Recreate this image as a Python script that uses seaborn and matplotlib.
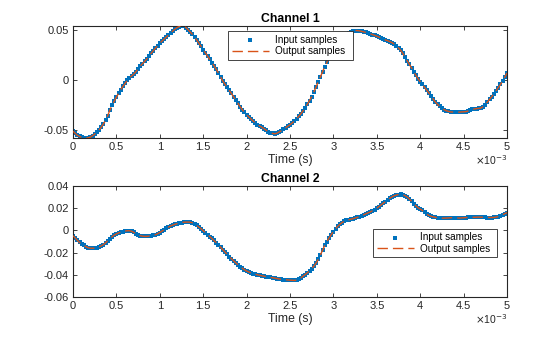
import numpy as np
import pandas as pd
import matplotlib
matplotlib.use("Agg")
import matplotlib.pyplot as plt
from matplotlib.ticker import MultipleLocator, FuncFormatter
import seaborn as sns

# Sample period of the recorded signal (seconds) and the sample values of each channel
sample_period = 25e-6

channel1 = [
    -0.0510, -0.0530, -0.0550, -0.0562, -0.0570, -0.0575, -0.0577, -0.0575, -0.0568, -0.0555,
    -0.0538, -0.0520, -0.0498, -0.0470, -0.0438, -0.0400, -0.0355, -0.0300, -0.0250, -0.0212,
    -0.0170, -0.0133, -0.0097, -0.0065, -0.0035, -0.0005, 0.0020, 0.0038, 0.0057, 0.0082,
    0.0110, 0.0137, 0.0160, 0.0183, 0.0207, 0.0235, 0.0262, 0.0290, 0.0315, 0.0340,
    0.0364, 0.0385, 0.0406, 0.0426, 0.0446, 0.0467, 0.0487, 0.0505, 0.0520, 0.0530,
    0.0535, 0.0532, 0.0520, 0.0500, 0.0476, 0.0452, 0.0425, 0.0397, 0.0365, 0.0333,
    0.0300, 0.0268, 0.0237, 0.0205, 0.0172, 0.0140, 0.0105, 0.0068, 0.0030, -0.0010,
    -0.0043, -0.0073, -0.0104, -0.0135, -0.0168, -0.0202, -0.0234, -0.0265, -0.0295, -0.0322,
    -0.0345, -0.0367, -0.0388, -0.0408, -0.0426, -0.0443, -0.0458, -0.0470, -0.0484, -0.0500,
    -0.0515, -0.0525, -0.0532, -0.0535, -0.0530, -0.0518, -0.0505, -0.0490, -0.0475, -0.0460,
    -0.0445, -0.0428, -0.0408, -0.0386, -0.0362, -0.0337, -0.0308, -0.0276, -0.0242, -0.0205,
    -0.0165, -0.0120, -0.0070, -0.0020, 0.0030, 0.0080, 0.0130, 0.0175, 0.0218, 0.0258,
    0.0295, 0.0328, 0.0358, 0.0388, 0.0415, 0.0438, 0.0456, 0.0470, 0.0480, 0.0486,
    0.0490, 0.0490, 0.0487, 0.0482, 0.0477, 0.0471, 0.0465, 0.0458, 0.0450, 0.0442,
    0.0433, 0.0425, 0.0415, 0.0405, 0.0396, 0.0389, 0.0380, 0.0370, 0.0355, 0.0338,
    0.0318, 0.0293, 0.0262, 0.0228, 0.0192, 0.0155, 0.0117, 0.0080, 0.0045, 0.0013,
    -0.0017, -0.0045, -0.0072, -0.0100, -0.0130, -0.0161, -0.0192, -0.0220, -0.0244, -0.0264,
    -0.0280, -0.0295, -0.0306, -0.0313, -0.0318, -0.0320, -0.0321, -0.0321, -0.0320, -0.0319,
    -0.0317, -0.0315, -0.0310, -0.0302, -0.0294, -0.0288, -0.0285, -0.0283, -0.0279, -0.0265,
    -0.0245, -0.0220, -0.0193, -0.0165, -0.0137, -0.0108, -0.0077, -0.0045, -0.0010, 0.0030,
    0.0068,
]

channel2 = [
    -0.0048, -0.0068, -0.0090, -0.0108, -0.0123, -0.0136, -0.0147, -0.0156, -0.0160, -0.0161,
    -0.0160, -0.0156, -0.0150, -0.0140, -0.0128, -0.0112, -0.0092, -0.0074, -0.0057, -0.0043,
    -0.0032, -0.0023, -0.0016, -0.0010, -0.0006, -0.0003, -0.0003, -0.0008, -0.0018, -0.0030,
    -0.0040, -0.0048, -0.0052, -0.0054, -0.0054, -0.0052, -0.0049, -0.0044, -0.0039, -0.0030,
    -0.0019, -0.0006, 0.0007, 0.0019, 0.0030, 0.0040, 0.0048, 0.0055, 0.0061, 0.0067,
    0.0071, 0.0074, 0.0075, 0.0075, 0.0074, 0.0069, 0.0058, 0.0045, 0.0030, 0.0015,
    -0.0002, -0.0019, -0.0037, -0.0055, -0.0072, -0.0090, -0.0110, -0.0131, -0.0152, -0.0173,
    -0.0195, -0.0216, -0.0236, -0.0255, -0.0274, -0.0292, -0.0310, -0.0326, -0.0340, -0.0354,
    -0.0366, -0.0375, -0.0383, -0.0390, -0.0395, -0.0400, -0.0405, -0.0409, -0.0413, -0.0417,
    -0.0420, -0.0423, -0.0426, -0.0430, -0.0434, -0.0438, -0.0441, -0.0443, -0.0444, -0.0446,
    -0.0448, -0.0450, -0.0451, -0.0448, -0.0440, -0.0428, -0.0413, -0.0398, -0.0382, -0.0364,
    -0.0344, -0.0322, -0.0295, -0.0262, -0.0222, -0.0178, -0.0136, -0.0100, -0.0068, -0.0038,
    -0.0010, 0.0015, 0.0037, 0.0055, 0.0071, 0.0082, 0.0090, 0.0095, 0.0100, 0.0105,
    0.0111, 0.0117, 0.0124, 0.0132, 0.0141, 0.0150, 0.0158, 0.0166, 0.0177, 0.0188,
    0.0200, 0.0215, 0.0230, 0.0245, 0.0260, 0.0276, 0.0290, 0.0302, 0.0312, 0.0319,
    0.0323, 0.0325, 0.0322, 0.0314, 0.0301, 0.0283, 0.0262, 0.0242, 0.0222, 0.0205,
    0.0192, 0.0180, 0.0162, 0.0146, 0.0135, 0.0127, 0.0122, 0.0117, 0.0113, 0.0110,
    0.0110, 0.0110, 0.0111, 0.0112, 0.0114, 0.0116, 0.0114, 0.0112, 0.0111, 0.0112,
    0.0114, 0.0116, 0.0117, 0.0117, 0.0117, 0.0118, 0.0119, 0.0120, 0.0119, 0.0118,
    0.0117, 0.0116, 0.0116, 0.0116, 0.0117, 0.0120, 0.0125, 0.0133, 0.0142, 0.0151,
    0.0160,
]

channel_titles = ["Channel 1", "Channel 2"]
x_label = "Time (s)"
legend_labels = ["Input samples", "Output samples"]

BLUE = "#0072BD"
ORANGE = "#D95319"
AXIS_GRAY = "#262626"

sns.set_style("white")
plt.rcParams["font.family"] = ["Liberation Sans", "DejaVu Sans"]
plt.rcParams["axes.unicode_minus"] = False

fig = plt.figure(figsize=(5.6, 3.37), dpi=100)
fig.patch.set_facecolor("white")

panels = [
    dict(data=channel1, rect=[73 / 560, 1 - 138 / 337, 434 / 560, 112 / 337],
         ylim=None, yticks=0.05, legend_box=(0.358, 0.953, 0.287, 0.0)),
    dict(data=channel2, rect=[73 / 560, 1 - 297 / 337, 434 / 560, 111 / 337],
         ylim=(-0.06, 0.04), yticks=0.02, legend_box=(0.692, 0.613, 0.285, 0.0)),
]

fmt_ms = FuncFormatter(lambda v, pos: f"{round(v * 1e3, 6):g}")
fmt_val = FuncFormatter(lambda v, pos: f"{round(v, 6):g}")

for title, panel in zip(channel_titles, panels):
    values = np.asarray(panel["data"])
    t = np.arange(len(values)) * sample_period
    df = pd.DataFrame({"t": t, "input": values, "output": values})

    ax = fig.add_axes(panel["rect"])
    sns.scatterplot(data=df, x="t", y="input", ax=ax, marker="s", s=5.5,
                    color=BLUE, linewidth=0, label=legend_labels[0], zorder=2)
    sns.lineplot(data=df, x="t", y="output", ax=ax, color=ORANGE, lw=1.0,
                 linestyle=(0, (7.5, 3.6)), estimator=None, sort=False,
                 label=legend_labels[1], zorder=3)

    ax.set_xlim(0, 5e-3)
    if panel["ylim"] is None:
        ax.set_ylim(values.min(), values.max())
    else:
        ax.set_ylim(*panel["ylim"])
    ax.xaxis.set_major_locator(MultipleLocator(0.5e-3))
    ax.xaxis.set_major_formatter(fmt_ms)
    ax.yaxis.set_major_locator(MultipleLocator(panel["yticks"]))
    ax.yaxis.set_major_formatter(fmt_val)

    for side in ax.spines.values():
        side.set_visible(True)
        side.set_color(AXIS_GRAY)
        side.set_linewidth(0.8)
    ax.tick_params(direction="in", length=3, width=0.6, colors=AXIS_GRAY,
                   labelsize=8, pad=3, top=True, right=True,
                   bottom=True, left=True)

    ax.set_xlabel(x_label, fontsize=8.8, color=AXIS_GRAY, labelpad=1.5)
    ax.set_ylabel("")
    ax.set_title(title, fontsize=8.8, fontweight="bold", color="black", pad=3)
    ax.text(1.0, -0.2, r"$\times$10$^{-3}$", transform=ax.transAxes,
            ha="right", va="center", fontsize=7.5, color=AXIS_GRAY)

    handles, labels = ax.get_legend_handles_labels()
    leg = ax.legend(handles, labels, loc="upper left",
                    bbox_to_anchor=panel["legend_box"], mode="expand",
                    borderaxespad=0,
                    fontsize=7.2, frameon=True, fancybox=False, framealpha=1,
                    edgecolor=AXIS_GRAY, borderpad=0.35, handlelength=3.7,
                    handletextpad=0.6, labelspacing=0.15, markerscale=1.0)
    leg.get_frame().set_linewidth(0.6)
    for txt in leg.get_texts():
        txt.set_color("black")

fig.savefig("out.png", dpi=100, facecolor="white")
